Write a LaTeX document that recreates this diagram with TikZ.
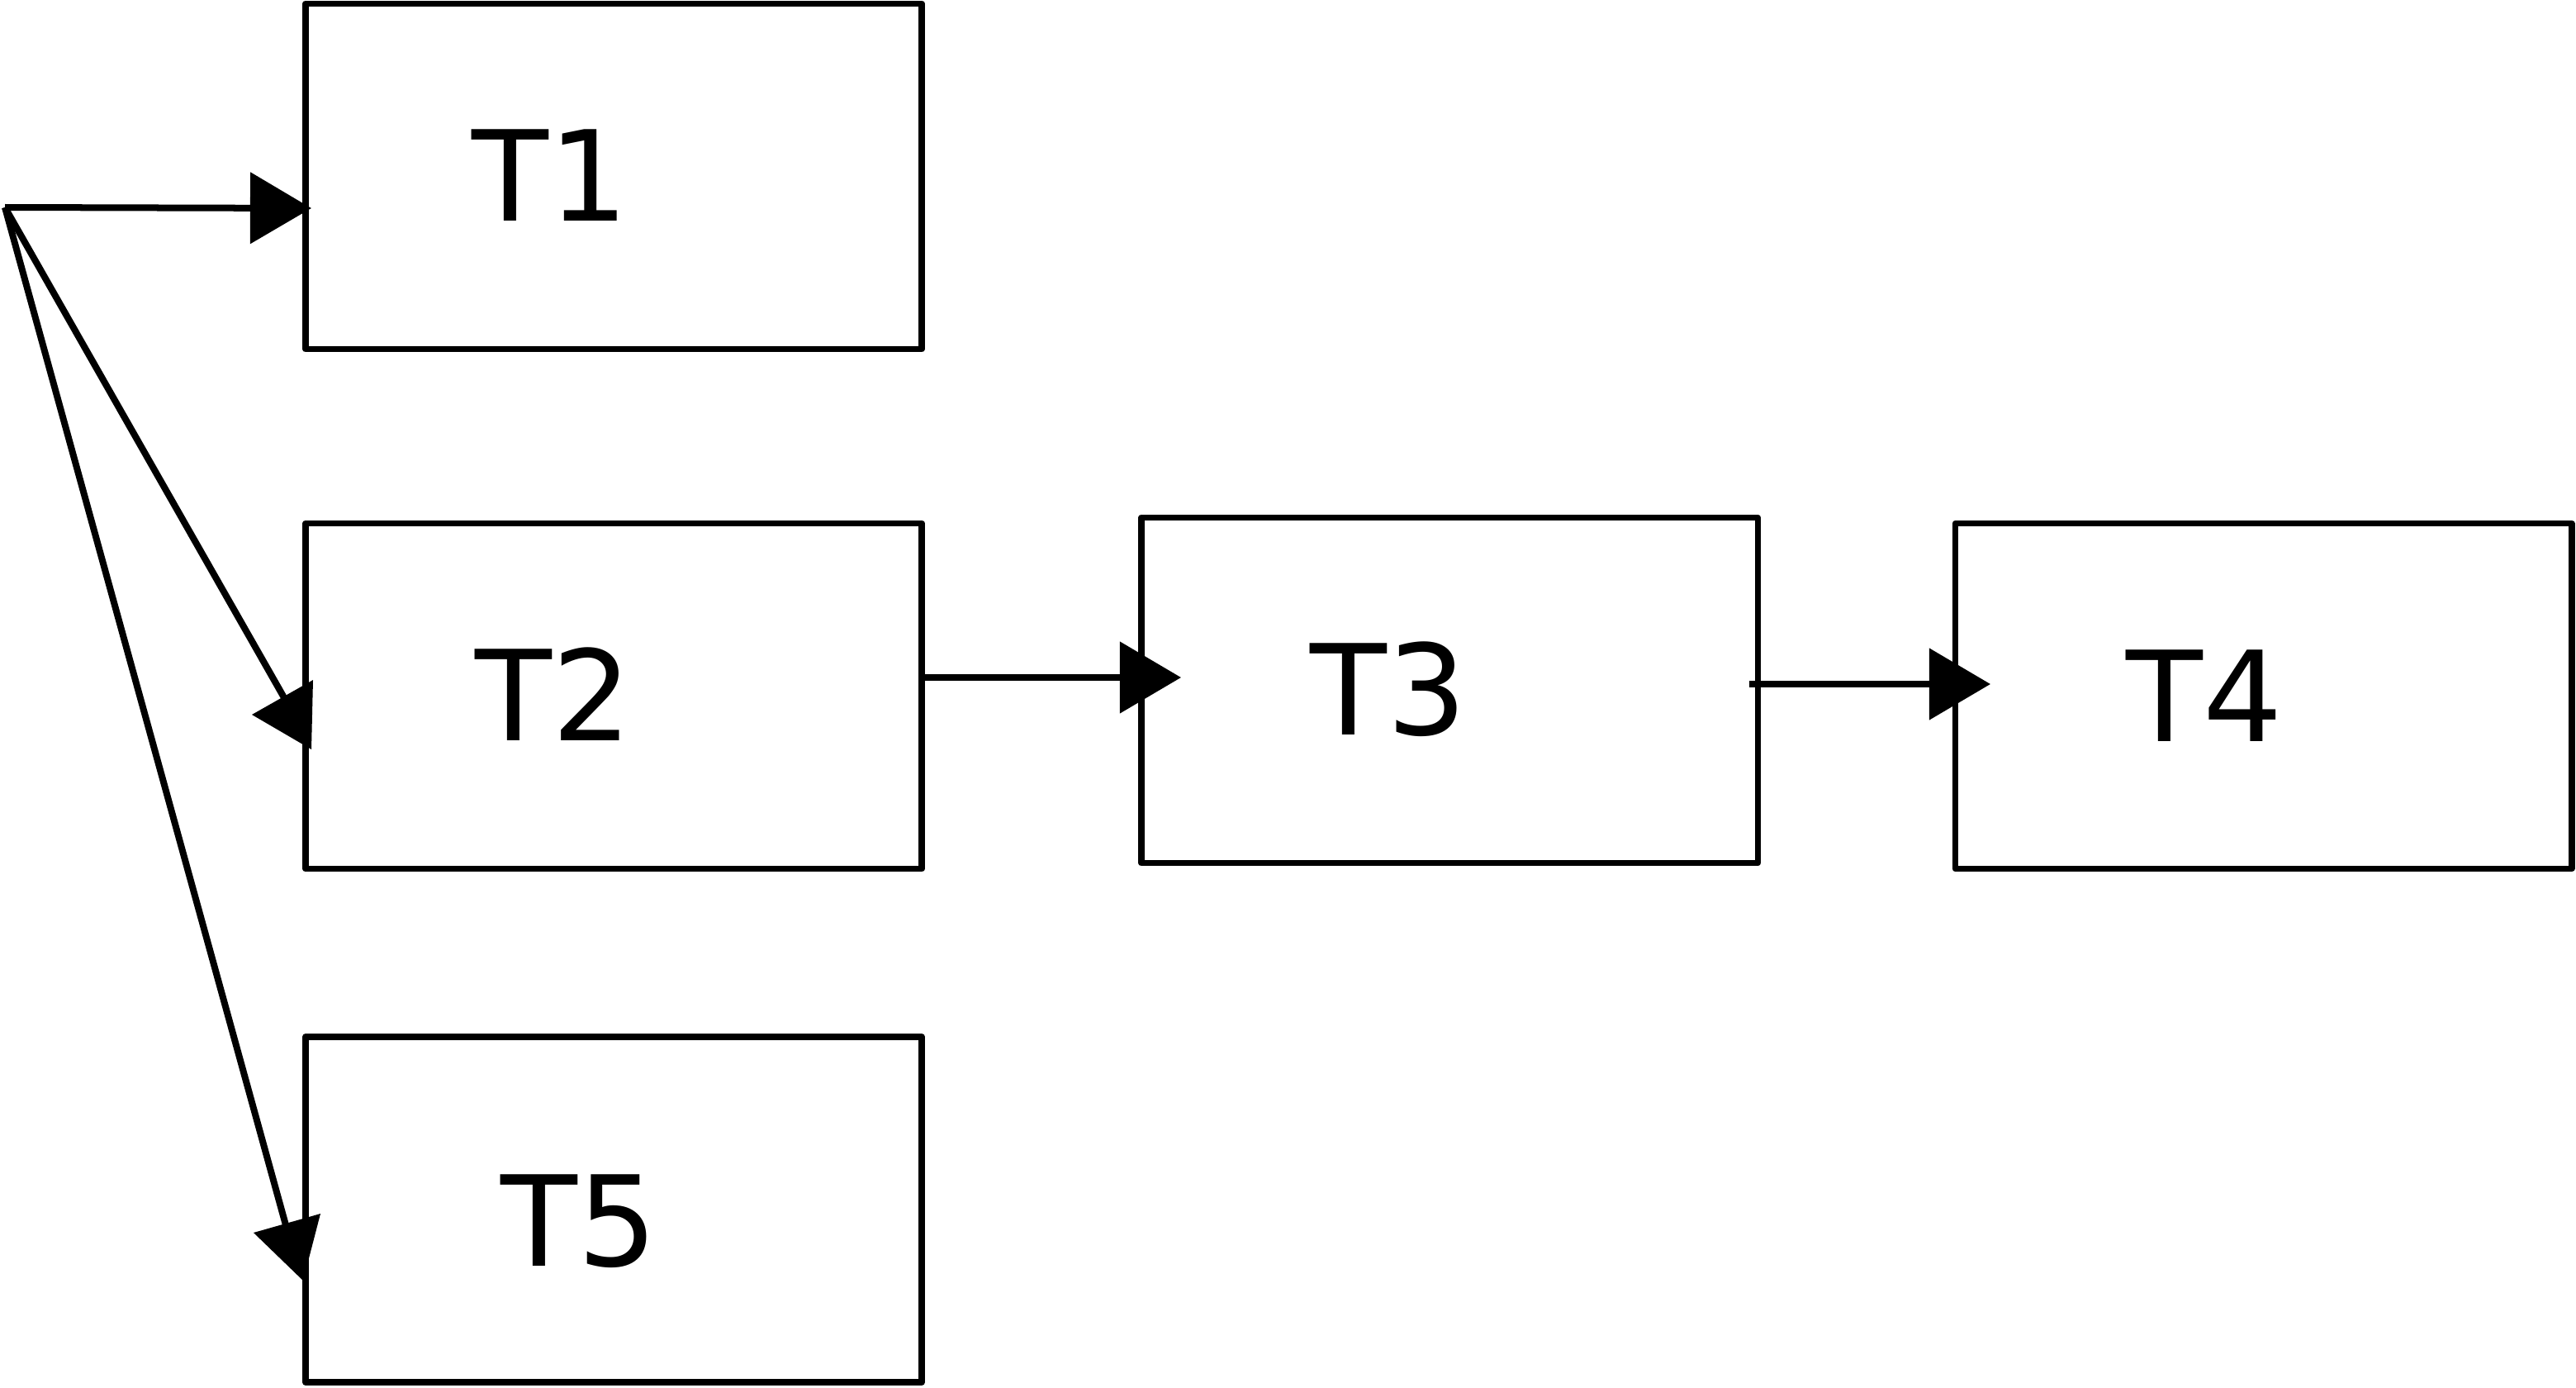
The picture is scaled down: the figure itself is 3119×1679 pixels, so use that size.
\documentclass[tikz,border=0pt]{standalone}
\usepackage{fontspec}
\setmainfont{DejaVu Sans}
\usetikzlibrary{arrows.meta}
\begin{document}
\begin{tikzpicture}[x=0.01cm,y=-0.01cm,
  box/.style={draw, line width=0.075cm, line join=round, minimum width=7.46cm,
              minimum height=4.18cm, inner sep=0pt},
  lab/.style={inner sep=0pt, font=\fontsize{43.2}{50}\selectfont},
  link/.style={line width=0.08cm, -{Triangle[length=0.74cm,width=0.85cm]}},
  wire/.style={line width=0.08cm},
  head/.style={fill=black}]
\useasboundingbox (0,0) rectangle (3119,1679);

% task boxes
\node[box] (T1) at (743,213.5) {};
\node[box] (T2) at (743,842.5) {};
\node[box] (T5) at (743,1464) {};
\node[box] (T3) at (1755,835.5) {};
\node[box] (T4) at (2740.5,842.5) {};

% box captions
\node[lab] (l1) at (666,212.5) {T1};
\node[lab] (l2) at (670,840) {T2};
\node[lab] (l3) at (1681,834) {T3};
\node[lab] (l4) at (2669,842) {T4};
\node[lab] (l5) at (701,1478) {T5};

% fan-out point and connector ends
\coordinate (src) at (6,251);
\coordinate (e1) at (377,252);
\coordinate (e2) at (350,855);
\coordinate (e5) at (348,1490);
\coordinate (s23) at (1115,820);
\coordinate (e23) at (1430,820);
\coordinate (s34) at (2118,828);
\coordinate (e34) at (2410,828);

% straight connectors
\draw[link] (src) -- (e1);
\draw[link] (s23) -- (e23);
\draw[link] (s34) -- (e34);

% slanted connectors with their heads
\draw[wire] (src) -- (e2);
\fill[head] (305,865) -- (379,823) -- (377,907) -- cycle;
\draw[wire] (src) -- (e5);
\fill[head] (307,1492) -- (388,1469) -- (367,1550) -- cycle;
\end{tikzpicture}
\end{document}
